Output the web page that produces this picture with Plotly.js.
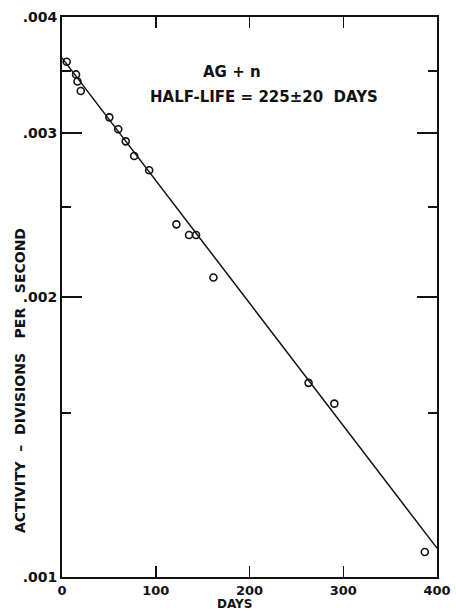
<!DOCTYPE html>
<html>
<head>
<meta charset="utf-8">
<script src="https://cdn.plot.ly/plotly-3.0.1.min.js"></script>
<style>html,body{margin:0;padding:0;background:#fff;}</style>
</head>
<body>
<div id="chart" style="width:456px;height:611px;"></div>
<script>
// Measured activity (divisions per second) vs days
const days = [5, 15, 16.5, 20, 50.5, 60, 68, 77, 93, 122, 135.5, 143, 161.5, 263, 290.5, 387];
const activity = [0.00358, 0.00347, 0.00341, 0.00333, 0.00312, 0.00303, 0.00294, 0.002835, 0.002737,
                  0.002394, 0.002332, 0.002332, 0.002099, 0.001617, 0.001536, 0.001064];
// Fitted decay line (half-life 225 ± 20 days)
const fitDays = [0, 400];
const fitActivity = [0.003615, 0.001074];

const xTickVals = [0, 100, 200, 300, 400];
const xTickText = ['0', '100', '200', '300', '400'];
const yTickVals = [0.001, 0.002, 0.003, 0.004];
const yTickText = ['.001', '.002', '.003', '.004'];
const yMinorVals = [0.0015, 0.0025, 0.0035];

const fontFam = 'DejaVu Sans, Liberation Sans, sans-serif';

const traces = [
  {
    x: fitDays, y: fitActivity, type: 'scatter', mode: 'lines',
    line: {color: '#111', width: 1.5}, hoverinfo: 'skip', showlegend: false
  },
  {
    x: days, y: activity, type: 'scatter', mode: 'markers',
    marker: {symbol: 'circle-open', size: 7, color: '#111', line: {width: 1.6, color: '#111'}},
    showlegend: false
  }
];

const layout = {
  width: 456, height: 611,
  margin: {l: 62, r: 19, t: 17, b: 34},
  paper_bgcolor: '#fff', plot_bgcolor: '#fff',
  showlegend: false,
  xaxis: {
    range: [0, 400], tickvals: xTickVals, ticktext: xTickText,
    ticks: 'inside', ticklen: 11, tickwidth: 1.5, tickcolor: '#111',
    showline: true, linecolor: '#111', linewidth: 2, mirror: 'ticks',
    showgrid: false, zeroline: false, ticklabelstandoff: 0,
    tickfont: {family: fontFam, size: 13, color: '#111', weight: 'bold'}
  },
  yaxis: {
    type: 'log', range: [Math.log10(0.001), Math.log10(0.004)],
    tickvals: yTickVals, ticktext: yTickText,
    ticks: 'inside', ticklen: 20, tickwidth: 1.5, tickcolor: '#111',
    minor: {tickvals: yMinorVals, ticks: 'inside', ticklen: 9, tickwidth: 1.5, tickcolor: '#111', showgrid: false},
    showline: true, linecolor: '#111', linewidth: 2, mirror: 'ticks',
    showgrid: false, zeroline: false,
    tickfont: {family: fontFam, size: 14, color: '#111', weight: 'bold'}
  },
  annotations: [
    {text: 'AG + n', xref: 'paper', yref: 'paper', x: (232 - 62) / 375, y: (577 - 72) / 560,
     showarrow: false, xanchor: 'center', yanchor: 'middle',
     font: {family: fontFam, size: 15, color: '#111', weight: 'bold'}},
    {text: 'HALF-LIFE = 225±20  DAYS', xref: 'paper', yref: 'paper', x: (264 - 62) / 375, y: (577 - 97) / 560,
     showarrow: false, xanchor: 'center', yanchor: 'middle',
     font: {family: fontFam, size: 15, color: '#111', weight: 'bold'}},
    {text: 'DAYS', xref: 'paper', yref: 'paper', x: (234 - 62) / 375, y: (577 - 604) / 560,
     showarrow: false, xanchor: 'center', yanchor: 'middle',
     font: {family: fontFam, size: 12, color: '#111', weight: 'bold'}},
    {text: 'ACTIVITY  –  DIVISIONS   PER   SECOND', xref: 'paper', yref: 'paper', x: (20 - 62) / 375, y: (577 - 381) / 560,
     showarrow: false, xanchor: 'center', yanchor: 'middle', textangle: -90,
     font: {family: fontFam, size: 14, color: '#111', weight: 'bold'}}
  ]
};

Plotly.newPlot('chart', traces, layout, {displayModeBar: false, staticPlot: true});
</script>
</body>
</html>
